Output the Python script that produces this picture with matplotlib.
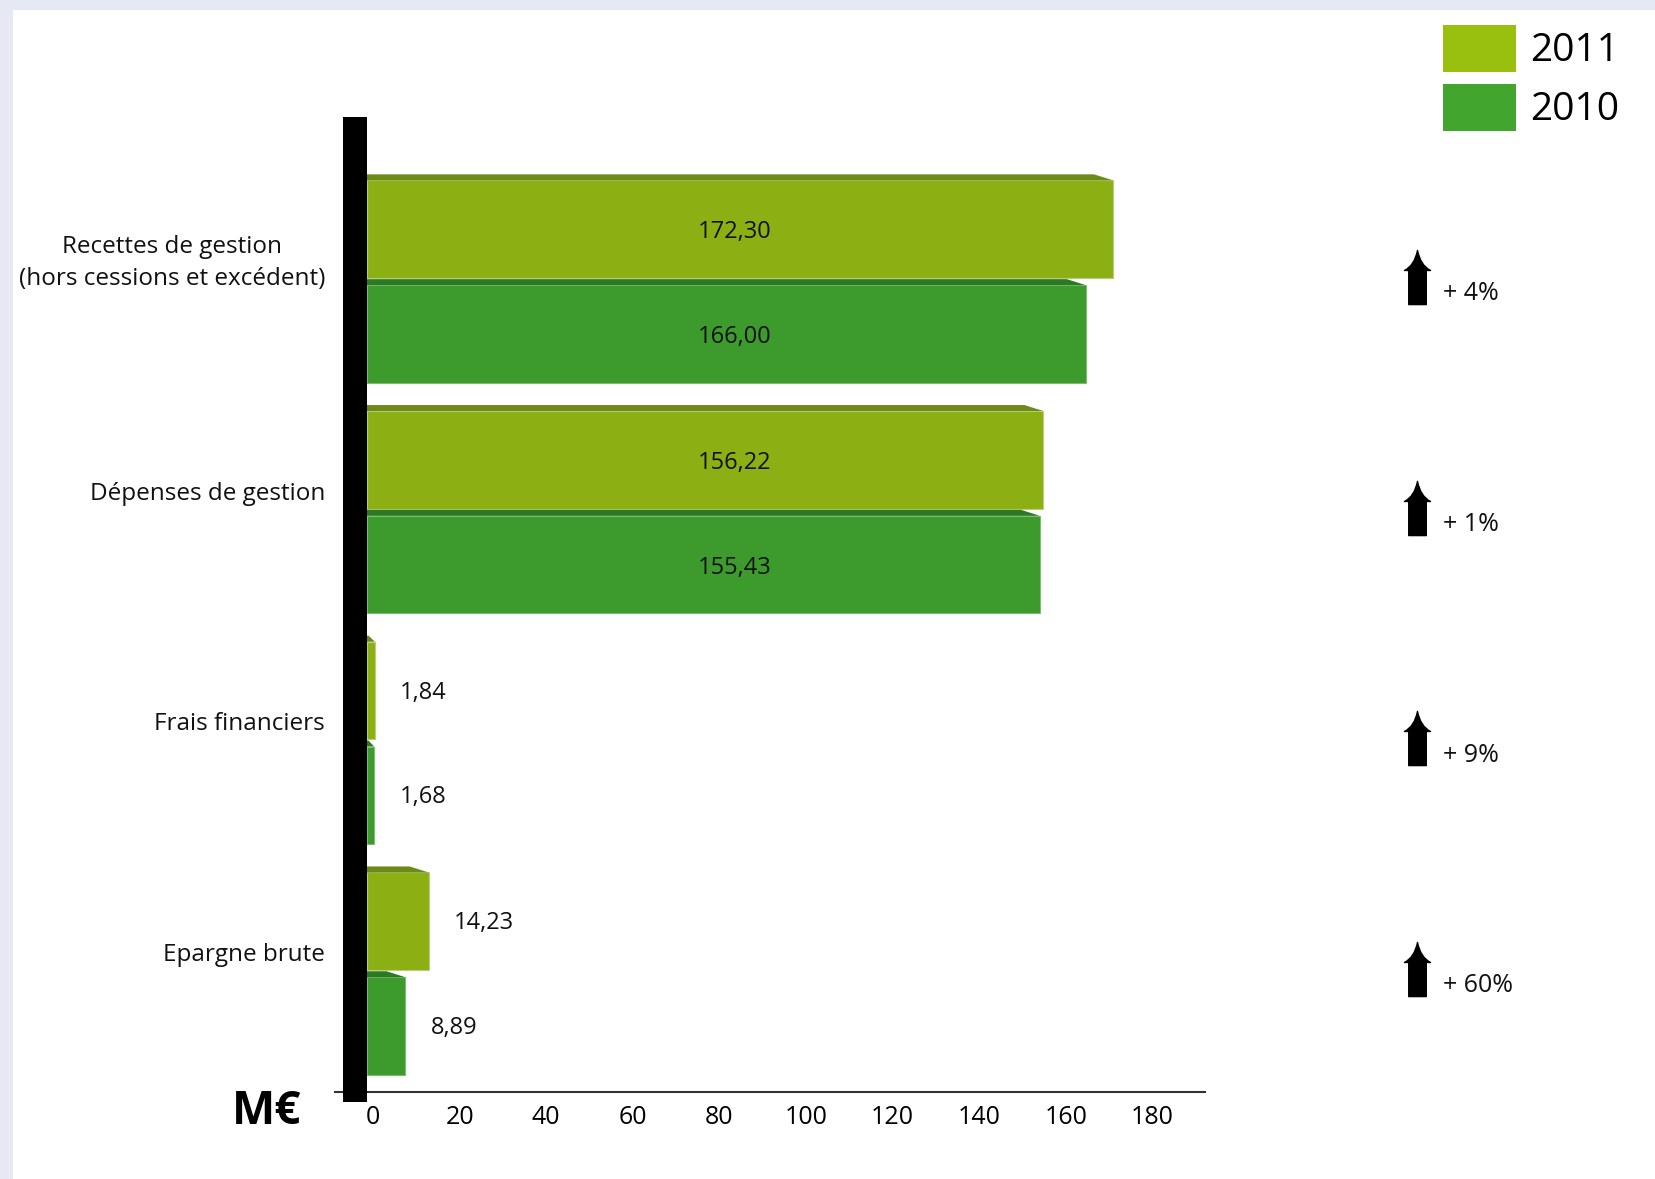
import numpy as np
import matplotlib
matplotlib.use('Agg')
import matplotlib.pyplot as plt
from matplotlib.patches import Rectangle, Polygon
from matplotlib.path import Path
from matplotlib.transforms import blended_transform_factory, ScaledTranslation

# === Data ===
categories = ['Recettes de gestion\n(hors cessions et excédent)',
              'Dépenses de gestion',
              'Frais financiers',
              'Epargne brute']
values_2011 = [172.30, 156.22, 1.84, 14.23]
values_2010 = [166.00, 155.43, 1.68, 8.89]
labels_2011 = ['172,30', '156,22', '1,84', '14,23']
labels_2010 = ['166,00', '155,43', '1,68', '8,89']
changes = ['+ 4%', '+ 1%', '+ 9%', '+ 60%']
xticks = [0, 20, 40, 60, 80, 100, 120, 140, 160, 180]
years = ['2011', '2010']

# === Style ===
C2011, C2011_TOP, C2011_LEG = '#8CAF13', '#6B8A17', '#99C00F'
C2010, C2010_TOP, C2010_LEG = '#3D9A2C', '#2B7922', '#42A52E'
BG = '#E6E9F3'
plt.rcParams['font.family'] = ['Open Sans', 'DejaVu Sans']

W, H = 1655, 1179
PX_X = 4.33      # pixels per M€
PX_Y = 230.7     # pixels per category step
Y0 = 281.5       # pixel row of first category centre
X0 = 367         # pixel column of x = 0

fig = plt.figure(figsize=(W / 100, H / 100), dpi=100, facecolor=BG)
fig.patches.append(Rectangle((13 / W, 0), 1, 1 - 10 / H, transform=fig.transFigure,
                             facecolor='white', edgecolor='none', zorder=-10))

ax_l, ax_r, ax_t, ax_b = 335, 1205, 100, 1092
ax = fig.add_axes([ax_l / W, 1 - ax_b / H, (ax_r - ax_l) / W, (ax_b - ax_t) / H])
ax.set_facecolor('none')
ax.set_xlim(-(X0 - ax_l) / PX_X, (ax_r - X0) / PX_X)
ax.set_ylim((ax_b - Y0) / PX_Y, (ax_t - Y0) / PX_Y)

pos = np.arange(len(categories))
off = 52.4 / PX_Y
h = 97.5 / PX_Y
strip_h = 6 / PX_Y
slant = 19 / PX_X


def bar3d(y, w, face, top):
    ax.barh(y, w, height=h, color=face, edgecolor='#B5CF7A' if face == C2011 else '#7DBB6E',
            linewidth=0.8, zorder=3)
    ytop = y - h / 2
    s = min(slant, w * 0.8)
    ax.add_patch(Polygon([(0, ytop - strip_h), (w - s, ytop - strip_h), (w, ytop), (0, ytop)],
                         closed=True, facecolor=top, edgecolor='none', zorder=3))


for i in range(len(categories)):
    for y, v, lab, face, top in [(pos[i] - off, values_2011[i], labels_2011[i], C2011, C2011_TOP),
                                 (pos[i] + off, values_2010[i], labels_2010[i], C2010, C2010_TOP)]:
        bar3d(y, v, face, top)
        if v > 50:
            ax.text(85, y + 3 / PX_Y, lab, ha='center', va='center', fontsize=17,
                    color='#111111', zorder=5)
        else:
            ax.text(v + 5.8, y + 2 / PX_Y, lab, ha='left', va='center', fontsize=17,
                    color='#111111', zorder=5)

# black vertical bar (y axis)
ax.add_patch(Rectangle((-(X0 - 343) / PX_X, (117 - Y0) / PX_Y), (X0 - 343) / PX_X, (1102 - 117) / PX_Y,
                       facecolor='black', edgecolor='none', zorder=6, clip_on=False))

# x axis
for s in ['top', 'right', 'left']:
    ax.spines[s].set_visible(False)
ax.spines['bottom'].set_linewidth(1.5)
ax.spines['bottom'].set_color('#333333')
ax.set_yticks([])
ax.set_xticks(xticks)
ax.set_xticklabels([str(t) for t in xticks], fontsize=18)
ax.tick_params(axis='x', length=0, pad=9)
shift = ScaledTranslation(6 / 100, 0, fig.dpi_scale_trans)
for lbl in ax.get_xticklabels():
    lbl.set_transform(lbl.get_transform() + shift)

# category labels
trans = blended_transform_factory(fig.transFigure, ax.transData)
for i, c in enumerate(categories):
    ax.text(325 / W, pos[i] - 0.08, c, transform=trans, ha='right', va='center',
            multialignment='center', fontsize=17.5, color='#111111', linespacing=1.45)

# change arrows
arrow_path = Path(
    [(0, 27), (3, 12), (13, 7), (8.75, 7), (8.75, -27), (-8.75, -27), (-8.75, 7), (-13, 7),
     (-3, 12), (0, 27), (0, 27)],
    [Path.MOVETO, Path.CURVE3, Path.CURVE3, Path.LINETO, Path.LINETO, Path.LINETO, Path.LINETO,
     Path.LINETO, Path.CURVE3, Path.CURVE3, Path.CLOSEPOLY])
for i, ch in enumerate(changes):
    ax.plot([1417 / W], [pos[i] - 0.02], marker=arrow_path, markersize=39, color='black',
            transform=trans, clip_on=False, linestyle='none')
    ax.text(1443 / W, pos[i] - 0.02 + 17 / PX_Y, ch, transform=trans, ha='left', va='center',
            fontsize=18, color='#111111')

# unit label
fig.text(266.5 / W, 1 - 1112 / H, 'M€', ha='center', va='center', fontsize=33,
         fontweight='bold', color='black')

# legend
for k, (yr, col) in enumerate(zip(years, [C2011_LEG, C2010_LEG])):
    top_px = 25 + k * 59
    fig.patches.append(Rectangle((1443 / W, 1 - (top_px + 47) / H), 73 / W, 47 / H,
                                 transform=fig.transFigure, facecolor=col, edgecolor='none'))
    fig.text(1530 / W, 1 - (top_px + 26) / H, yr, ha='left', va='center', fontsize=28,
             color='black')

plt.savefig('out.png', dpi=100, facecolor=fig.get_facecolor())
